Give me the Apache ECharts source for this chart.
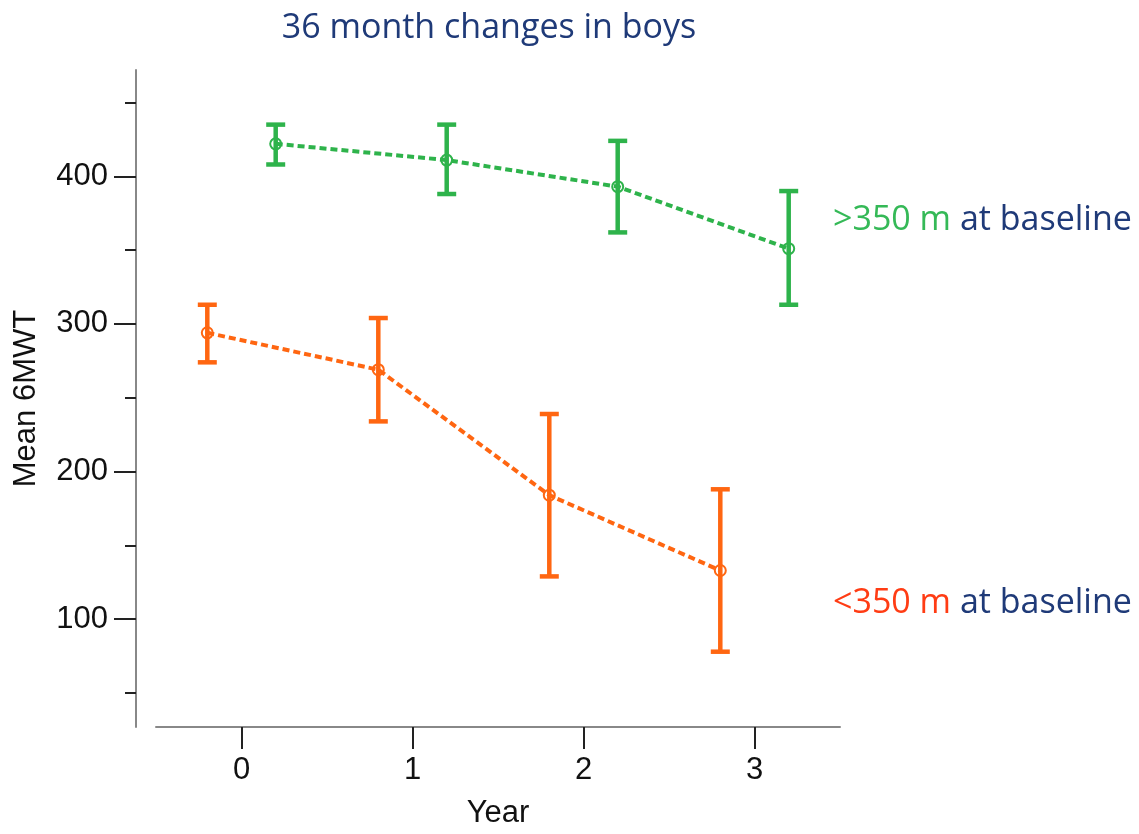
<!DOCTYPE html>
<html>
<head>
<meta charset="utf-8">
<title>36 month changes in boys</title>
<script src="https://cdn.jsdelivr.net/npm/echarts@6/dist/echarts.min.js"></script>
<style>
  html, body { margin: 0; padding: 0; background: #ffffff; }
  #chart { width: 1139px; height: 834px; }
</style>
</head>
<body>
<div id="chart"></div>
<script>
// Study years on the x axis
const years = [0, 1, 2, 3];
const yearTicks = [0, 1, 2, 3];

// Boys walking more than 350 m at baseline: mean 6MWT and error bar limits
const highMean = [422, 411, 393, 351];
const highLower = [408, 388, 362, 313];
const highUpper = [435, 435, 424, 390];

// Boys walking less than 350 m at baseline
const lowMean = [294, 269, 184, 133];
const lowLower = [274, 234, 129, 78];
const lowUpper = [313, 304, 239, 188];

// Labelled and minor tick values on the 6MWT axis
const majorTicks = [100, 200, 300, 400];
const minorTicks = [50, 150, 250, 350, 450];

// Groups are dodged either side of each year
const DODGE = 0.2;
const GREEN = '#2eb34b';
const ORANGE = '#ff6611';
const NAVY = '#1f3a78';
const AXIS_FONT = '"Liberation Sans", Arial, sans-serif';
const TEXT_FONT = '"Open Sans", Lato, sans-serif';

function points(values, shift) {
  return values.map((v, i) => [years[i] + shift, v]);
}
function bars(lower, upper, shift) {
  return lower.map((lo, i) => [years[i] + shift, lo, upper[i]]);
}

// Error bar: vertical stem with flat caps
function renderErrorBar(params, api) {
  const x = api.value(0);
  const lo = api.coord([x, api.value(1)]);
  const hi = api.coord([x, api.value(2)]);
  const half = 9.5;
  const color = api.visual('color');
  const style = { stroke: color, lineWidth: 4.5, lineCap: 'butt' };
  return {
    type: 'group',
    children: [
      { type: 'line', shape: { x1: hi[0], y1: hi[1], x2: lo[0], y2: lo[1] }, style },
      { type: 'line', shape: { x1: hi[0] - half, y1: hi[1], x2: hi[0] + half, y2: hi[1] }, style },
      { type: 'line', shape: { x1: lo[0] - half, y1: lo[1], x2: lo[0] + half, y2: lo[1] }, style }
    ]
  };
}

function meanLine(name, values, shift, color) {
  return {
    name, type: 'line', data: points(values, shift),
    symbol: 'circle', symbolSize: 11,
    lineStyle: { color, width: 4, type: [7, 4] },
    itemStyle: { color: 'rgba(255,255,255,0)', borderColor: color, borderWidth: 2 },
    z: 3, silent: true
  };
}
function errorSeries(name, lower, upper, shift, color) {
  return {
    name, type: 'custom', data: bars(lower, upper, shift),
    renderItem: renderErrorBar, itemStyle: { color },
    encode: { x: 0, y: [1, 2] }, z: 2, silent: true
  };
}

const chart = echarts.init(document.getElementById('chart'), null, { renderer: 'canvas' });

chart.setOption({
  animation: false,
  backgroundColor: '#ffffff',
  title: {
    text: '36 month changes in boys',
    left: 484, top: 6, textAlign: 'center',
    textStyle: { color: NAVY, fontFamily: TEXT_FONT, fontSize: 34, fontWeight: 'normal' }
  },
  grid: { left: 156, right: 299, top: 70, bottom: 103, containLabel: false },
  xAxis: {
    type: 'value', min: -0.5, max: 3.5,
    name: 'Year', nameLocation: 'middle', nameGap: 71,
    nameTextStyle: { color: '#111', fontFamily: AXIS_FONT, fontSize: 31 },
    axisLine: { show: true, onZero: false, lineStyle: { color: '#888', width: 2 } },
    axisTick: { show: true, customValues: yearTicks, length: 22, inside: false, lineStyle: { color: '#222', width: 2 } },
    axisLabel: { customValues: yearTicks, margin: 28, color: '#111', fontFamily: AXIS_FONT, fontSize: 31 },
    splitLine: { show: false }
  },
  yAxis: [
    {
      type: 'value', min: 27, max: 472, offset: 20, position: 'left',
      name: 'Mean 6MWT', nameLocation: 'middle', nameGap: 94, nameRotate: 90,
      nameTextStyle: { color: '#111', fontFamily: AXIS_FONT, fontSize: 31 },
      axisLine: { show: true, onZero: false, lineStyle: { color: '#888', width: 2 } },
      axisTick: { show: true, customValues: majorTicks, length: 22, lineStyle: { color: '#222', width: 2 } },
      axisLabel: { customValues: majorTicks, margin: 28, color: '#111', fontFamily: AXIS_FONT, fontSize: 31 },
      splitLine: { show: false }
    },
    {
      // short unlabelled ticks between the hundreds
      type: 'value', min: 27, max: 472, offset: 20, position: 'left',
      axisLine: { show: false, onZero: false },
      axisTick: { show: true, customValues: minorTicks, length: 11, lineStyle: { color: '#222', width: 2 } },
      axisLabel: { show: false },
      splitLine: { show: false }
    }
  ],
  graphic: [
    {
      type: 'text', left: 833, top: 203,
      style: {
        text: '{g|>350 m }{n|at baseline}',
        rich: {
          g: { fill: '#35b957', fontFamily: TEXT_FONT, fontSize: 34 },
          n: { fill: NAVY, fontFamily: TEXT_FONT, fontSize: 34 }
        }
      }
    },
    {
      type: 'text', left: 833, top: 586,
      style: {
        text: '{o|<350 m }{n|at baseline}',
        rich: {
          o: { fill: '#ff3c14', fontFamily: TEXT_FONT, fontSize: 34 },
          n: { fill: NAVY, fontFamily: TEXT_FONT, fontSize: 34 }
        }
      }
    }
  ],
  series: [
    errorSeries('>350 m error', highLower, highUpper, DODGE, GREEN),
    meanLine('>350 m at baseline', highMean, DODGE, GREEN),
    errorSeries('<350 m error', lowLower, lowUpper, -DODGE, ORANGE),
    meanLine('<350 m at baseline', lowMean, -DODGE, ORANGE)
  ]
});
</script>
</body>
</html>
